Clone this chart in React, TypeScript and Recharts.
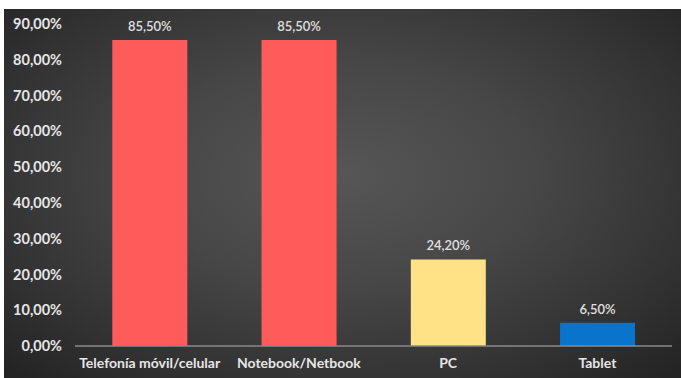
import { FC } from "react";
import { BarChart, Bar, XAxis, YAxis, Cell, LabelList } from "recharts";

const categories = ["Telefonía móvil/celular", "Notebook/Netbook", "PC", "Tablet"];
const values = [85.5, 85.5, 24.2, 6.5];
const barColors = ["#FF5B5B", "#FF5B5B", "#FFE285", "#0A74CC"];
const yTicks = [0, 10, 20, 30, 40, 50, 60, 70, 80, 90];

const data = categories.map((name, i) => ({ name, value: values[i] }));

const fmt = (v: number) => `${v.toFixed(2).replace(".", ",")}%`;

const font = "Lato, 'Open Sans', sans-serif";

const App: FC = () => {
  return (
    <div
      style={{
        position: "absolute",
        left: 4,
        top: 9,
        width: 677,
        height: 369,
        background:
          "radial-gradient(ellipse 70% 75% at 50% 45%, #565656 0%, #474747 40%, #333333 75%, #242424 100%)",
      }}
    >
      <BarChart
        width={677}
        height={369}
        data={data}
        margin={{ top: 15, right: 9, bottom: 0, left: 0 }}
        barCategoryGap="25%"
      >
        <XAxis
          dataKey="name"
          height={32}
          axisLine={{ stroke: "#8a8a8a", strokeWidth: 1.5 }}
          tickLine={false}
          tickSize={6}
          tickMargin={6}
          interval={0}
          tick={{ fill: "#e6e6e6", fontSize: 14, fontWeight: 700, fontFamily: font }}
        />
        <YAxis
          width={71}
          domain={[0, 90]}
          ticks={yTicks}
          tickFormatter={fmt}
          axisLine={false}
          tickLine={false}
          tickSize={6}
          tickMargin={7}
          tick={{ fill: "#e6e6e6", fontSize: 14.5, fontWeight: 700, fontFamily: font }}
        />
        <Bar dataKey="value" isAnimationActive={false}>
          {data.map((d, i) => (
            <Cell key={d.name} fill={barColors[i]} />
          ))}
          <LabelList
            dataKey="value"
            position="top"
            offset={9}
            formatter={(v: any) => fmt(Number(v))}
            style={{ fill: "#e0e0e0", fontSize: 13, fontWeight: 600, fontFamily: font }}
          />
        </Bar>
      </BarChart>
    </div>
  );
};

export default App;
